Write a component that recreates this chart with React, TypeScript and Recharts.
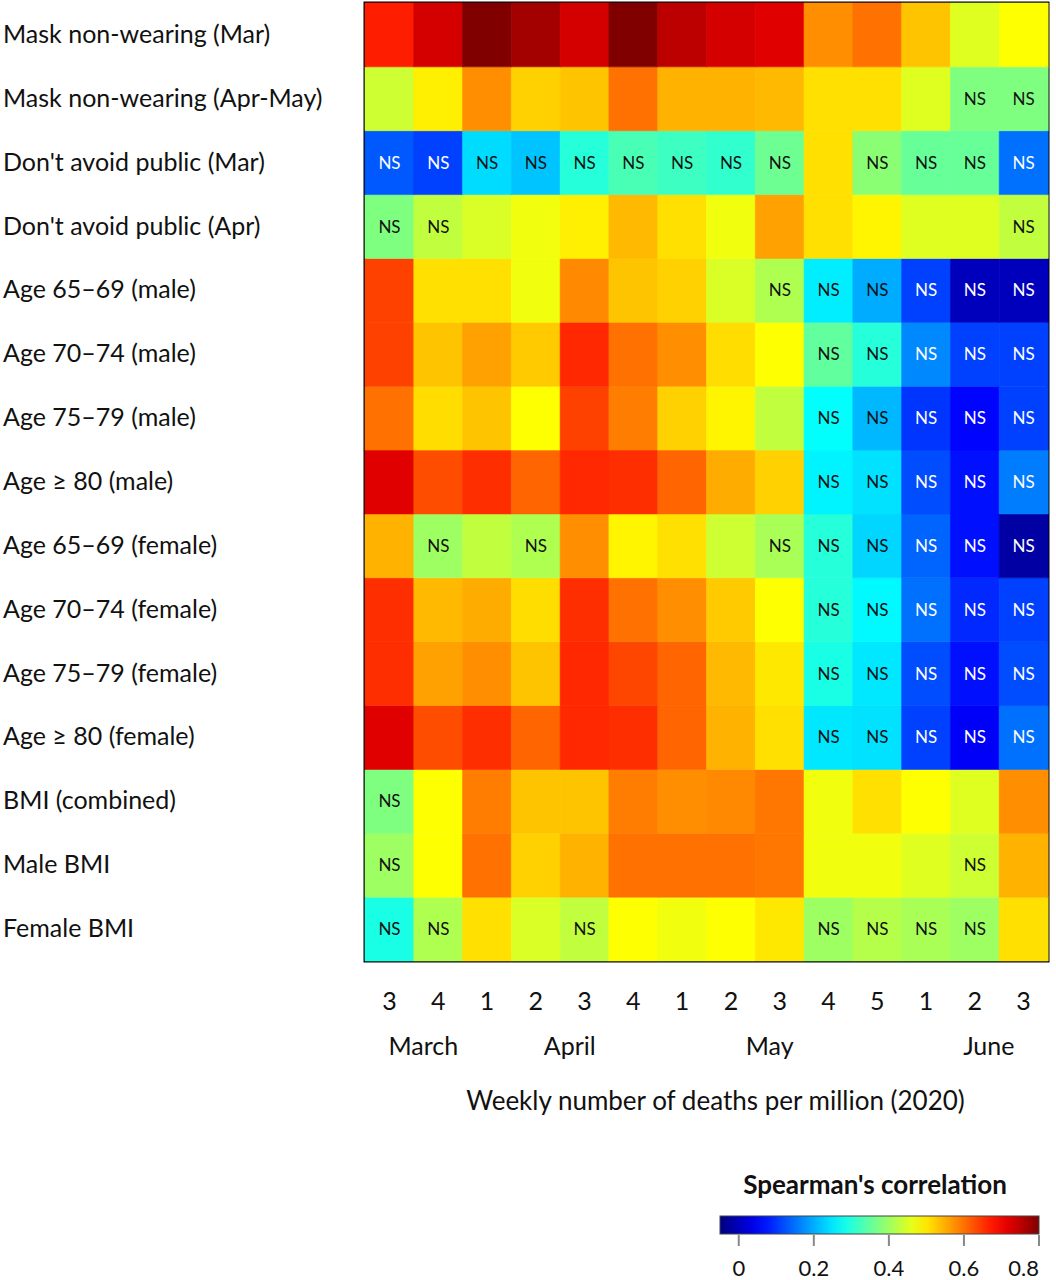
import { BarChart, Bar, XAxis, YAxis, Cell, LabelList, ReferenceArea } from 'recharts'

// week of month along the x axis, month names under the first week shown for each
const weeks = ['3', '4', '1', '2', '3', '4', '1', '2', '3', '4', '5', '1', '2', '3']
const months = ['March', '', '', 'April', '', '', '', '', 'May', '', '', '', 'June', '']

const rowNames = [
  'Mask non-wearing (Mar)',
  'Mask non-wearing (Apr-May)',
  "Don't avoid public (Mar)",
  "Don't avoid public (Apr)",
  'Age 65–69 (male)',
  'Age 70–74 (male)',
  'Age 75–79 (male)',
  'Age ≥ 80 (male)',
  'Age 65–69 (female)',
  'Age 70–74 (female)',
  'Age 75–79 (female)',
  'Age ≥ 80 (female)',
  'BMI (combined)',
  'Male BMI',
  'Female BMI',
]

// Spearman's correlation per week
const maskMar = [0.67, 0.73, 0.8, 0.77, 0.73, 0.8, 0.75, 0.73, 0.72, 0.575, 0.6, 0.53, 0.455, 0.48]
const maskAprMay = [0.44, 0.495, 0.575, 0.52, 0.53, 0.6, 0.545, 0.545, 0.54, 0.507, 0.507, 0.455, 0.375, 0.375]
const avoidMar = [0.13, 0.11, 0.24, 0.22, 0.3, 0.33, 0.32, 0.31, 0.36, 0.507, 0.385, 0.355, 0.355, 0.15]
const avoidApr = [0.375, 0.43, 0.45, 0.47, 0.495, 0.54, 0.507, 0.47, 0.56, 0.507, 0.49, 0.455, 0.455, 0.43]
const m6569 = [0.64, 0.507, 0.507, 0.47, 0.58, 0.53, 0.52, 0.45, 0.415, 0.255, 0.2, 0.11, 0.0, 0.0]
const m7074 = [0.64, 0.53, 0.56, 0.525, 0.66, 0.6, 0.575, 0.51, 0.48, 0.35, 0.3, 0.17, 0.11, 0.11]
const m7579 = [0.6, 0.51, 0.53, 0.48, 0.64, 0.59, 0.52, 0.49, 0.43, 0.27, 0.21, 0.1, 0.06, 0.11]
const m80 = [0.72, 0.63, 0.655, 0.61, 0.66, 0.655, 0.61, 0.55, 0.52, 0.26, 0.245, 0.12, 0.07, 0.16]
const f6569 = [0.545, 0.4, 0.43, 0.415, 0.575, 0.49, 0.507, 0.44, 0.41, 0.3, 0.235, 0.14, 0.07, -0.02]
const f7074 = [0.655, 0.54, 0.55, 0.51, 0.655, 0.6, 0.575, 0.525, 0.48, 0.3, 0.265, 0.15, 0.09, 0.11]
const f7579 = [0.655, 0.56, 0.575, 0.53, 0.66, 0.635, 0.61, 0.54, 0.5, 0.29, 0.25, 0.12, 0.07, 0.12]
const f80 = [0.72, 0.63, 0.655, 0.61, 0.66, 0.655, 0.61, 0.545, 0.507, 0.25, 0.245, 0.11, 0.05, 0.15]
const bmiAll = [0.375, 0.48, 0.59, 0.53, 0.53, 0.59, 0.575, 0.58, 0.595, 0.47, 0.507, 0.48, 0.455, 0.575]
const bmiMale = [0.4, 0.48, 0.6, 0.52, 0.545, 0.6, 0.6, 0.6, 0.595, 0.47, 0.47, 0.455, 0.44, 0.545]
const bmiFemale = [0.29, 0.415, 0.507, 0.45, 0.43, 0.48, 0.47, 0.48, 0.5, 0.4, 0.42, 0.41, 0.4, 0.507]

const values = [maskMar, maskAprMay, avoidMar, avoidApr, m6569, m7074, m7579, m80, f6569, f7074, f7579, f80, bmiAll, bmiMale, bmiFemale]

// 1 = not significant
const notSig = [
  [0, 0, 0, 0, 0, 0, 0, 0, 0, 0, 0, 0, 0, 0],
  [0, 0, 0, 0, 0, 0, 0, 0, 0, 0, 0, 0, 1, 1],
  [1, 1, 1, 1, 1, 1, 1, 1, 1, 0, 1, 1, 1, 1],
  [1, 1, 0, 0, 0, 0, 0, 0, 0, 0, 0, 0, 0, 1],
  [0, 0, 0, 0, 0, 0, 0, 0, 1, 1, 1, 1, 1, 1],
  [0, 0, 0, 0, 0, 0, 0, 0, 0, 1, 1, 1, 1, 1],
  [0, 0, 0, 0, 0, 0, 0, 0, 0, 1, 1, 1, 1, 1],
  [0, 0, 0, 0, 0, 0, 0, 0, 0, 1, 1, 1, 1, 1],
  [0, 1, 0, 1, 0, 0, 0, 0, 1, 1, 1, 1, 1, 1],
  [0, 0, 0, 0, 0, 0, 0, 0, 0, 1, 1, 1, 1, 1],
  [0, 0, 0, 0, 0, 0, 0, 0, 0, 1, 1, 1, 1, 1],
  [0, 0, 0, 0, 0, 0, 0, 0, 0, 1, 1, 1, 1, 1],
  [1, 0, 0, 0, 0, 0, 0, 0, 0, 0, 0, 0, 0, 0],
  [1, 0, 0, 0, 0, 0, 0, 0, 0, 0, 0, 0, 1, 0],
  [1, 1, 0, 0, 1, 0, 0, 0, 0, 1, 1, 1, 1, 0],
]

const legendTicks = [0, 0.2, 0.4, 0.6, 0.8]

const VMIN = -0.05
const VMAX = 0.8
const FONT = 'Lato, "Open Sans", sans-serif'

const clamp = (v: number) => Math.max(0, Math.min(1, v))

function jet(v: number) {
  const t = clamp((v - VMIN) / (VMAX - VMIN))
  const r = clamp(1.5 - Math.abs(4 * t - 3))
  const g = clamp(1.5 - Math.abs(4 * t - 2))
  const b = clamp(1.5 - Math.abs(4 * t - 1))
  return `rgb(${Math.round(r * 255)},${Math.round(g * 255)},${Math.round(b * 255)})`
}

// stacked bars: each row is one unit tall, bottom row first
const rowOrder = values.map((_, i) => values.length - 1 - i)
const tableData = weeks.map((w, c) => {
  const d: Record<string, number | string> = { slot: c, week: w }
  values.forEach((_, r) => {
    d[`r${r}`] = 1
  })
  return d
})
const yTicks = rowNames.map((_, i) => i + 0.5)

const monthShift: Record<string, number> = { March: 34, April: 34, May: -10, June: 14 }

function WeekTick({ x, y, payload }: any) {
  const i = Number(payload.value)
  const m = months[i]
  return (
    <g fontFamily={FONT} fill="#111">
      <text x={x} y={y + 49} textAnchor="middle" fontSize={25}>
        {weeks[i]}
      </text>
      {m && (
        <text x={x + monthShift[m]} y={y + 94} textAnchor="middle" fontSize={25}>
          {m}
        </text>
      )}
    </g>
  )
}

function RowTick({ y, payload }: any) {
  const name = rowNames[Math.round(values.length - 0.5 - payload.value)]
  return (
    <text x={3} y={y} dy={8} textAnchor="start" fontSize={25} fontFamily={FONT} fill="#111">
      {name}
    </text>
  )
}

function nsLabel(row: number) {
  return (props: any) => {
    const { x, y, width, height, index } = props
    if (!notSig[row][index]) return null
    const v = values[row][index]
    return (
      <text
        x={x + width / 2}
        y={y + height / 2}
        dy={6}
        textAnchor="middle"
        fontSize={17}
        fontFamily={FONT}
        fill={v < 0.19 ? '#fff' : '#111'}
      >
        NS
      </text>
    )
  }
}

function ColorBar() {
  const barX = 20
  const barW = 319
  const toX = (v: number) => barX + ((v - VMIN) / (VMAX - VMIN)) * barW
  const stops = Array.from({ length: 21 }, (_, k) => k / 20)
  return (
    <svg width={356} height={120} style={{ position: 'absolute', left: 700, top: 1160 }}>
      <defs>
        <linearGradient id="jetbar" x1="0" x2="1" y1="0" y2="0">
          {stops.map((s) => (
            <stop key={s} offset={s} stopColor={jet(VMIN + s * (VMAX - VMIN))} />
          ))}
        </linearGradient>
      </defs>
      <text x={175} y={34} textAnchor="middle" fontSize={26} fontWeight="bold" fontFamily={FONT} fill="#111">
        Spearman's correlation
      </text>
      <rect x={barX} y={56} width={barW} height={18} fill="url(#jetbar)" stroke="#444" strokeWidth={1} />
      {legendTicks.map((v, i) => (
        <g key={v}>
          <line x1={toX(v)} x2={toX(v)} y1={75} y2={86} stroke="#888" strokeWidth={2} />
          <text
            x={toX(v)}
            y={116}
            textAnchor={i === legendTicks.length - 1 ? 'end' : 'middle'}
            fontSize={22}
            fontFamily={FONT}
            fill="#111"
          >
            {v === 0 ? '0' : v.toFixed(1)}
          </text>
        </g>
      ))}
    </svg>
  )
}

export default function App() {
  return (
    <div style={{ position: 'relative', width: 1056, height: 1280, background: '#fff' }}>
      <style>{'body{margin:0}'}</style>
      <BarChart
        width={1056}
        height={1280}
        data={tableData}
        margin={{ top: 3, right: 8, left: 0, bottom: 169 }}
        barCategoryGap={0}
        barGap={0}
      >
        <XAxis
          dataKey="slot"
          height={150}
          tickLine={false}
          axisLine={false}
          tickSize={0}
          tickMargin={0}
          interval={0}
          tick={<WeekTick />}
          label={{
            value: 'Weekly number of deaths per million (2020)',
            position: 'insideBottom',
            offset: 1,
            dx: 9,
            fontSize: 26,
            fontFamily: FONT,
            fill: '#111',
          }}
        />
        <YAxis
          type="number"
          domain={[0, values.length]}
          ticks={yTicks}
          width={365}
          tickLine={false}
          axisLine={false}
          tick={<RowTick />}
          interval={0}
        />
        {rowOrder.map((r) => (
          <Bar key={r} dataKey={`r${r}`} stackId="h" isAnimationActive={false}>
            {values[r].map((v, c) => (
              <Cell key={c} fill={jet(v)} stroke={jet(v)} strokeWidth={0.6} />
            ))}
            <LabelList dataKey={`r${r}`} content={nsLabel(r)} />
          </Bar>
        ))}
        <ReferenceArea y1={0} y2={values.length} fill="none" stroke="#000" strokeWidth={3} ifOverflow="visible" />
      </BarChart>
      <ColorBar />
    </div>
  )
}
